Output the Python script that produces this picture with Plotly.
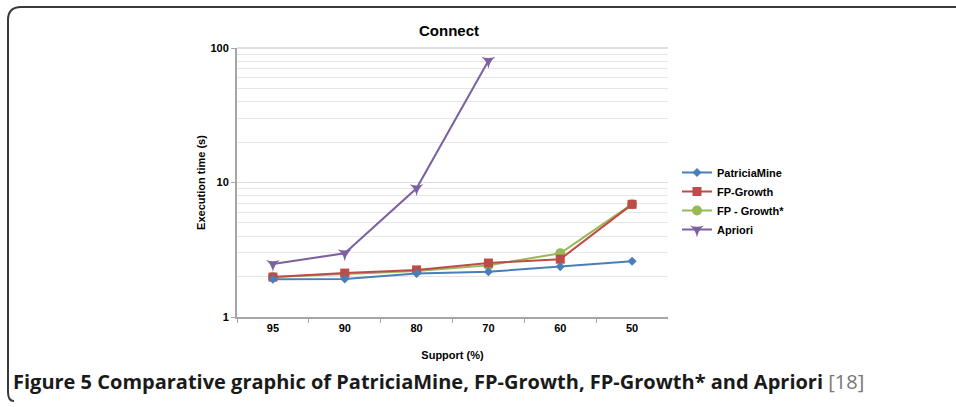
import plotly.graph_objects as go

W, H = 956, 407

support = ["95", "90", "80", "70", "60", "50"]
patricia = [1.91, 1.92, 2.11, 2.17, 2.37, 2.60]
fpgrowth = [1.98, 2.12, 2.24, 2.52, 2.69, 6.88]
fpgrowth_star = [1.98, 2.08, 2.20, 2.42, 2.98, 6.90]
apriori_x = ["95", "90", "80", "70"]
apriori = [2.48, 2.98, 9.05, 80.5]

y_tickvals = [1, 10, 100]
y_ticktext = ["1", "10", "100"]

series = [
    ("PatriciaMine", support, patricia, "#4A7EBB", "diamond", 7),
    ("FP-Growth", support, fpgrowth, "#BE4B48", "square", 9),
    ("FP - Growth*", support, fpgrowth_star, "#98B954", "circle", 10),
    ("Apriori", apriori_x, apriori, "#7D60A0", "star-triangle-down", 10),
]

fig = go.Figure()
order = [2, 1, 0, 3]
for i in order:
    name, xs, ys, col, sym, sz = series[i]
    fig.add_trace(go.Scatter(
        x=xs, y=ys, name=name, mode="lines+markers",
        line=dict(color=col, width=2),
        marker=dict(symbol=sym, size=sz, color=col, line=dict(width=0)),
        legendrank=i,
    ))


def px_x(p):
    return p / W


def px_y(p):
    return 1 - p / H


font = "Liberation Sans, Arial, sans-serif"

fig.update_layout(
    width=W, height=H,
    margin=dict(l=0, r=0, t=0, b=0, pad=0, autoexpand=False),
    paper_bgcolor="white", plot_bgcolor="white",
    title=dict(text="<b>Connect</b>", x=px_x(449), y=px_y(31),
               xanchor="center", yanchor="middle",
               font=dict(family=font, size=15, color="black")),
    xaxis=dict(
        domain=[px_x(237), px_x(668)], automargin=False,
        type="category", categoryorder="array", categoryarray=support,
        range=[-0.5, 5.5],
        showline=True, linecolor="#A6A6A6", linewidth=2,
        showgrid=False, zeroline=False,
        ticks="outside", tickson="boundaries", ticklen=4, tickcolor="#A6A6A6", tickwidth=1,
        tickfont=dict(family=font, size=11, color="black", weight="bold"),
        title=dict(text="<b>Support (%)</b>", standoff=18,
                   font=dict(family=font, size=11, color="black")),
    ),
    yaxis=dict(
        domain=[px_y(317), px_y(48)], automargin=False,
        type="log", range=[0, 2],
        tickvals=y_tickvals, ticktext=y_ticktext,
        showline=True, linecolor="#A6A6A6", linewidth=2, mirror=False,
        showgrid=True, gridcolor="#DCDCDC", gridwidth=1,
        zeroline=False,
        ticks="outside", ticklen=4, tickcolor="#A6A6A6",
        minor=dict(showgrid=True, gridcolor="#E6E6E6", gridwidth=1,
                   tickvals=[2, 3, 4, 5, 6, 7, 8, 9, 20, 30, 40, 50, 60, 70, 80, 90]),
        tickfont=dict(family=font, size=11, color="black", weight="bold"),
        title=dict(text="<b>Execution time (s)</b>", standoff=3,
                   font=dict(family=font, size=11, color="black")),
    ),
    legend=dict(
        x=px_x(677), y=px_y(158), xanchor="left", yanchor="top",
        font=dict(family=font, size=11, color="black", weight="bold"),
        bgcolor="rgba(0,0,0,0)", tracegroupgap=0, itemwidth=30,
        traceorder="normal",
    ),
    showlegend=True,
)

# top border line at 100
fig.add_shape(type="line", xref="paper", yref="paper",
              x0=px_x(237), x1=px_x(668), y0=px_y(48), y1=px_y(48),
              line=dict(color="#BFBFBF", width=1))

# figure frame (rounded corner)
x0, yt = px_x(8), px_y(7)
path = (f"M {x0},{px_y(392)} L {x0},{px_y(20)} "
        f"Q {x0},{yt} {px_x(21)},{yt} L 1,{yt}")
fig.add_shape(type="path", xref="paper", yref="paper", path=path,
              line=dict(color="#3A3A3A", width=2))
path2 = f"M {x0},{px_y(392)} Q {x0},{px_y(401)} {px_x(14)},{px_y(401)}"
fig.add_shape(type="path", xref="paper", yref="paper", path=path2,
              line=dict(color="#3A3A3A", width=2))

fig.add_annotation(
    xref="paper", yref="paper", x=px_x(11), y=px_y(381),
    xanchor="left", yanchor="middle", showarrow=False,
    text=("<b>Figure 5 Comparative graphic of PatriciaMine, FP-Growth, FP-Growth* and Apriori</b>"
          " <span style='color:#777777'>[18]</span>"),
    font=dict(family="Open Sans, sans-serif", size=20, color="#1a1a1a"),
)

fig.write_html(
    "out.html",
    config={"displayModeBar": False},
    post_script=("document.documentElement.style.margin='0';"
                 "document.body.style.margin='0';"
                 "document.body.style.overflow='hidden';"),
)
